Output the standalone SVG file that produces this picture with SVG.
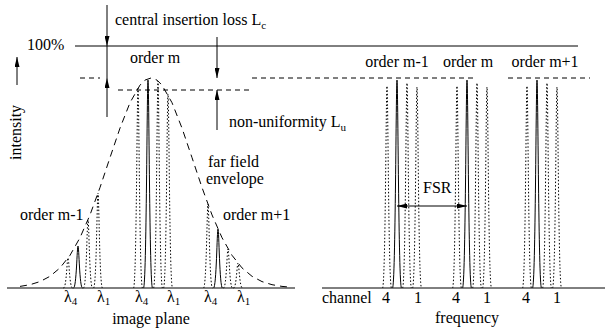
<svg xmlns="http://www.w3.org/2000/svg" width="605" height="335" viewBox="0 0 605 335">
<defs>
<marker id="ah" viewBox="0 0 10 5" markerWidth="10" markerHeight="5" refX="10" refY="2.5" orient="auto-start-reverse" markerUnits="userSpaceOnUse">
<path d="M0,0 L10,2.5 L0,5 z" fill="#000"/>
</marker>
<style>
text{font-family:"Liberation Serif","Times New Roman",serif;font-size:16px;fill:#000}
.sub{font-size:11px}
.ln{stroke:#000;stroke-width:1;fill:none}
.dash{stroke:#000;stroke-width:1;fill:none;stroke-dasharray:5 4}
.env{stroke:#000;stroke-width:1;fill:none;stroke-dasharray:7 5}
.sp{stroke:#000;stroke-width:1;fill:none}
.dt{stroke:#000;stroke-width:1;fill:none;stroke-dasharray:1.5 2}
.arr{stroke:#000;stroke-width:1;fill:none;marker-end:url(#ah)}
</style>
</defs>
<rect width="605" height="335" fill="#fff"/>

<g id="axes">
<line class="ln" x1="75" y1="46" x2="578" y2="46"/>
<line class="ln" x1="7" y1="288" x2="295" y2="288"/>
<line class="ln" x1="322" y1="288" x2="605" y2="288"/>
<line class="dash" x1="80" y1="78" x2="100" y2="78"/>
<line class="dash" x1="118" y1="90" x2="250" y2="90"/>
<line class="dash" x1="252" y1="78" x2="477" y2="78"/>
<line class="dash" x1="508" y1="78" x2="590" y2="78"/>
</g>

<g id="envelope">
<polyline class="env" points="20,286.4 30,284.7 40,281.6 50,276.3 60,267.9 70,255.3 80,237.7 90,214.9 100,187.5 110,157.6 120,128.1 130,102.7 140,85.1 145,80.1 151,78 157,80.1 162,85.1 172,102.7 182,128.1 192,157.6 202,187.5 212,214.9 222,237.7 232,255.3 242,267.9 252,276.3 262,281.6 272,284.7 282,286.4 290,287.1"/>
</g>

<g id="image-plane-spikes">
<path class="dt" d="M63.5,288 C66.5,288 67,258 68,258 C69,258 69.5,288 72.5,288"/>
<path class="sp" d="M73.5,288 C76.5,288 77,246 78,246 C79,246 79.5,288 82.5,288"/>
<path class="dt" d="M83.5,288 C86.5,288 87,220 88,220 C89,220 89.5,288 92.5,288"/>
<path class="dt" d="M93.5,288 C96.5,288 97,193 98,193 C99,193 99.5,288 102.5,288"/>

<path class="dt" d="M133.5,288 C136.5,288 137,88 138,88 C139,88 139.5,288 142.5,288"/>
<path class="sp" d="M143.5,288 C146.5,288 147,80 148,80 C149,80 149.5,288 152.5,288"/>
<path class="dt" d="M153.5,288 C156.5,288 157,81 158,81 C159,81 159.5,288 162.5,288"/>
<path class="dt" d="M163.5,288 C166.5,288 167,94 168,94 C169,94 169.5,288 172.5,288"/>

<path class="dt" d="M203.5,288 C206.5,288 207,204 208,204 C209,204 209.5,288 212.5,288"/>
<path class="sp" d="M213.5,288 C216.5,288 217,229 218,229 C219,229 219.5,288 222.5,288"/>
<path class="dt" d="M223.5,288 C226.5,288 227,249 228,249 C229,249 229.5,288 232.5,288"/>
<path class="dt" d="M233.5,288 C236.5,288 237,263 238,263 C239,263 239.5,288 242.5,288"/>
</g>

<g id="frequency-spikes">
<path class="dt" d="M382.5,288 C385.5,288 386,86 387,86 C388,86 388.5,288 391.5,288"/>
<path class="sp" d="M392.5,288 C395.5,288 396,80 397,80 C398,80 398.5,288 401.5,288"/>
<path class="dt" d="M402.5,288 C405.5,288 406,83 407,83 C408,83 408.5,288 411.5,288"/>
<path class="dt" d="M412.5,288 C415.5,288 416,87 417,87 C418,87 418.5,288 421.5,288"/>

<path class="dt" d="M452.5,288 C455.5,288 456,86 457,86 C458,86 458.5,288 461.5,288"/>
<path class="sp" d="M462.5,288 C465.5,288 466,80 467,80 C468,80 468.5,288 471.5,288"/>
<path class="dt" d="M472.5,288 C475.5,288 476,83 477,83 C478,83 478.5,288 481.5,288"/>
<path class="dt" d="M482.5,288 C485.5,288 486,87 487,87 C488,87 488.5,288 491.5,288"/>

<path class="dt" d="M522.5,288 C525.5,288 526,86 527,86 C528,86 528.5,288 531.5,288"/>
<path class="sp" d="M532.5,288 C535.5,288 536,80 537,80 C538,80 538.5,288 541.5,288"/>
<path class="dt" d="M542.5,288 C545.5,288 546,83 547,83 C548,83 548.5,288 551.5,288"/>
<path class="dt" d="M552.5,288 C555.5,288 556,87 557,87 C558,87 558.5,288 561.5,288"/>
</g>

<g id="connectors">
<line class="arr" x1="107" y1="5" x2="107" y2="46"/>
<line class="ln" x1="107" y1="46" x2="107" y2="78"/>
<line class="arr" x1="107" y1="117" x2="107" y2="78"/>
<line class="arr" x1="217" y1="37" x2="217" y2="78"/>
<line class="arr" x1="217" y1="130" x2="217" y2="90"/>
<line class="arr" x1="17" y1="85" x2="17" y2="57"/>
<line class="arr" x1="397" y1="206" x2="467" y2="206" marker-start="url(#ah)"/>
</g>

<g id="labels" font-family="'Liberation Serif', 'Times New Roman', serif">
<text x="115" y="25">central insertion loss L<tspan class="sub" dy="4">c</tspan></text>
<text x="27" y="50">100%</text>
<text x="130" y="63">order m</text>
<text x="229" y="127">non-uniformity L<tspan class="sub" dy="4">u</tspan></text>
<text transform="translate(21,160) rotate(-90)">intensity</text>
<text x="208" y="167">far field</text>
<text x="206" y="184">envelope</text>
<text x="20" y="220">order m-1</text>
<text x="223" y="220">order m+1</text>
<text x="64" y="302">λ<tspan class="sub" dy="3">4</tspan></text>
<text x="97" y="302">λ<tspan class="sub" dy="3">1</tspan></text>
<text x="135" y="302">λ<tspan class="sub" dy="3">4</tspan></text>
<text x="167" y="302">λ<tspan class="sub" dy="3">1</tspan></text>
<text x="204" y="302">λ<tspan class="sub" dy="3">4</tspan></text>
<text x="237" y="302">λ<tspan class="sub" dy="3">1</tspan></text>
<text x="151" y="324" text-anchor="middle">image plane</text>
<text x="397" y="67" text-anchor="middle">order m-1</text>
<text x="468" y="67" text-anchor="middle">order m</text>
<text x="545" y="67" text-anchor="middle">order m+1</text>
<text x="423" y="193">FSR</text>
<text x="322" y="303">channel</text>
<text x="386" y="303" text-anchor="middle">4</text>
<text x="418" y="303" text-anchor="middle">1</text>
<text x="456" y="303" text-anchor="middle">4</text>
<text x="487" y="303" text-anchor="middle">1</text>
<text x="526" y="303" text-anchor="middle">4</text>
<text x="557" y="303" text-anchor="middle">1</text>
<text x="467" y="323" text-anchor="middle">frequency</text>
</g>
</svg>
